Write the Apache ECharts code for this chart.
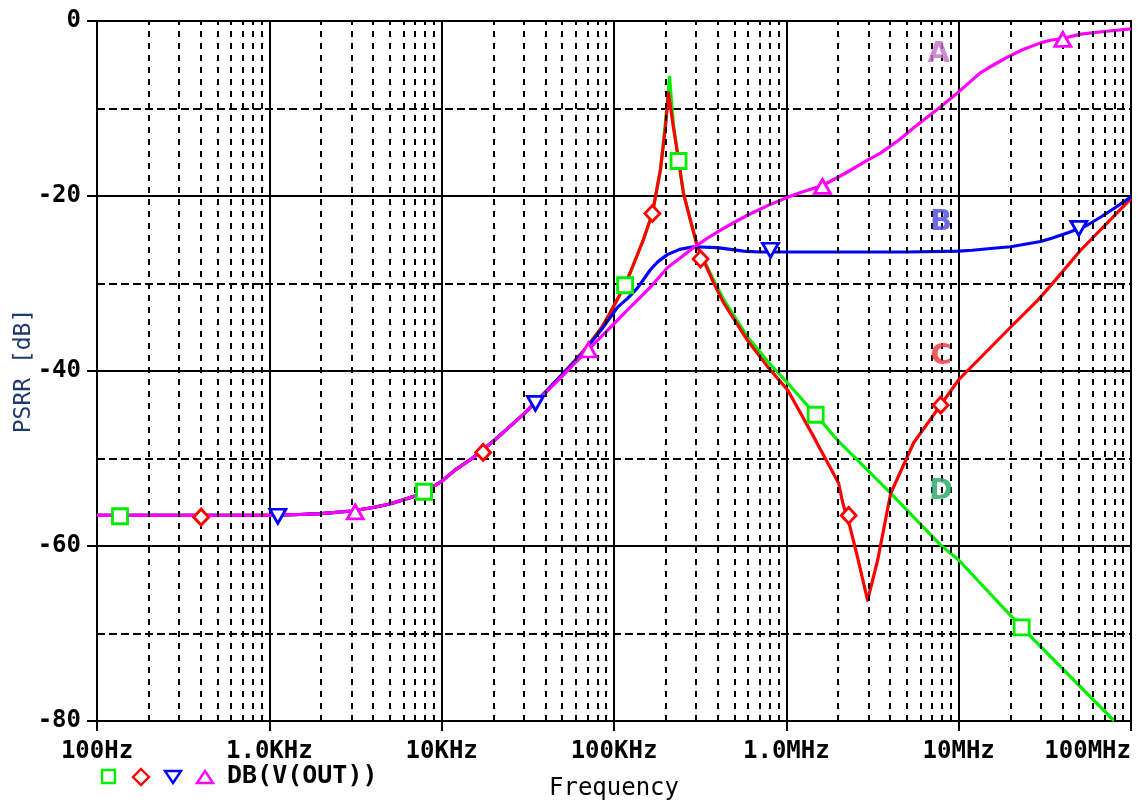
<!DOCTYPE html>
<html><head><meta charset="utf-8">
<script src="https://cdn.jsdelivr.net/npm/echarts@6/dist/echarts.min.js"></script>
<style>html,body{margin:0;padding:0;background:#fff}#c{width:1141px;height:803px}</style>
</head><body><div id="c"></div>
<script>
// ---- axis ticks ----
const xTickValues = [100, 1e3, 1e4, 1e5, 1e6, 1e7, 1e8];
const xTickLabels = ['100Hz', '1.0KHz', '10KHz', '100KHz', '1.0MHz', '10MHz', '100MHz'];
const yTickLabels = ['0', '-20', '-40', '-60', '-80'];

// ---- trace A (magenta) ----
const freqA = [100, 300, 1000, 1500, 2000, 3000, 4000, 5000, 7000, 8000, 10000, 12000, 15000, 20000, 25000, 30000, 40000, 50000, 60000, 70000,
  85000, 100000, 120000, 140000, 163000, 204000, 245000, 289000, 350000, 415000, 500000, 595000, 778000, 1000000, 1210000, 1620000,
  2200000, 2960000, 3520000, 4500000, 5480000, 7860000, 8800000, 10000000, 13400000, 16000000, 19300000, 24000000, 29900000, 34000000, 40000000, 51000000, 70000000, 100000000];
const dbA = [-56.5, -56.5, -56.5, -56.4, -56.3, -56.0, -55.6, -55.2, -54.3, -53.8, -52.6, -51.3, -50.0, -48.0, -46.3, -44.9, -42.5, -40.6, -39.0, -37.7,
  -36.0, -34.6, -33.0, -31.7, -30.4, -28.2, -27.0, -25.9, -24.8, -23.9, -23.0, -22.2, -21.1, -20.2, -19.6, -18.8,
  -17.4, -15.9, -15.1, -13.6, -12.2, -9.8, -9.0, -8.1, -5.9, -5.0, -4.1, -3.2, -2.5, -2.2, -2.0, -1.5, -1.2, -0.9];

// ---- trace B (blue) ----
const freqB = [100, 300, 1000, 1500, 2000, 3000, 4000, 5000, 7000, 8000, 10000, 12000, 15000, 20000, 25000, 30000, 40000, 50000, 60000, 70000,
  85000, 105000, 120000, 137000, 163000, 180000, 204000, 240000, 289000, 398000, 564000, 700000, 1000000, 2000000, 5000000, 10000000,
  12000000, 15300000, 20000000, 29900000, 35000000, 43000000, 55000000, 66800000, 80000000, 100000000];
const dbB = [-56.5, -56.5, -56.5, -56.4, -56.3, -56.0, -55.6, -55.2, -54.3, -53.8, -52.6, -51.3, -50.0, -48.0, -46.3, -44.9, -42.4, -40.4, -38.8, -37.3,
  -35.2, -32.7, -31.7, -30.5, -28.4, -27.5, -26.7, -26.1, -25.8, -25.9, -26.3, -26.4, -26.4, -26.4, -26.4, -26.3,
  -26.2, -26.0, -25.8, -25.2, -24.8, -24.2, -23.4, -22.4, -21.4, -20.1];

// ---- trace C (red) ----
const freqC = [100, 300, 1000, 1500, 2000, 3000, 4000, 5000, 7000, 8000, 10000, 12000, 15000, 20000, 25000, 30000, 40000, 50000, 60000, 70000,
  85000, 95300, 110000, 124000, 148000, 167000, 186000, 199000, 207000, 221000, 237000, 253000, 277000, 305000,
  378000, 432000, 595000, 778000, 1020000, 1440000, 1580000, 2010000, 2120000, 2340000, 2590000,
  2960000, 3390000, 4030000, 5480000, 7860000, 10000000, 20000000, 28800000, 34000000, 51000000, 100000000];
const dbC = [-56.5, -56.5, -56.5, -56.4, -56.3, -56.0, -55.6, -55.2, -54.3, -53.8, -52.6, -51.3, -50.0, -48.0, -46.3, -44.9, -42.4, -40.4, -38.7, -37.2,
  -35.0, -33.3, -31.0, -28.8, -25.0, -22.0, -17.0, -12.1, -8.2, -12.1, -15.9, -19.7, -22.7, -25.8,
  -29.9, -32.2, -36.5, -39.5, -42.2, -47.5, -49.0, -52.8, -55.0, -57.8, -61.3,
  -66.2, -61.6, -54.0, -48.2, -43.9, -41.0, -35.0, -31.9, -30.3, -26.2, -20.3];

// ---- trace D (green) ----
const freqD = [100, 300, 1000, 1500, 2000, 3000, 4000, 5000, 7000, 8000, 10000, 12000, 15000, 20000, 25000, 30000, 40000, 50000, 60000, 70000,
  85000, 95300, 110000, 124000, 148000, 167000, 186000, 199000, 210000, 221000, 237000, 253000, 277000, 305000,
  378000, 432000, 595000, 778000, 1020000, 1480000, 1980000, 4000000, 7860000, 10000000, 23200000, 80000000];
const dbD = [-56.5, -56.5, -56.5, -56.4, -56.3, -56.0, -55.6, -55.2, -54.3, -53.8, -52.6, -51.3, -50.0, -48.0, -46.3, -44.9, -42.4, -40.4, -38.7, -37.2,
  -35.0, -33.3, -31.0, -28.8, -25.0, -22.0, -17.0, -11.5, -6.4, -11.8, -15.9, -19.7, -22.7, -25.8,
  -29.6, -31.8, -36.1, -38.9, -41.4, -45.0, -47.9, -53.9, -59.9, -61.6, -69.3, -80.0];

// ---- markers ----
const markFreqD = [136, 7900, 116000, 237000, 1480000, 23200000];
const markDbD = [-56.6, -53.8, -30.2, -16.0, -45.0, -69.3];
const markFreqC = [402, 17400, 167000, 318000, 2300000, 7860000];
const markDbC = [-56.7, -49.3, -22.0, -27.2, -56.5, -43.9];
const markFreqB = [1120, 35000, 809000, 49800000];
const markDbB = [-56.6, -43.7, -26.2, -23.7];
const markFreqA = [3150, 71000, 1620000, 40200000];
const markDbA = [-56.1, -37.6, -18.9, -2.1];

// ---- trace name labels ----
const traceNames = ['A', 'B', 'C', 'D'];
const traceNameFreq = [7650000, 7900000, 7900000, 7900000];
const traceNameDb = [-3.8, -23.0, -38.3, -53.8];
const traceNameColors = ['#c070c4', '#4848d4', '#ea3434', '#26a460'];

const GREEN = '#00ee00', RED = '#ff0000', BLUE = '#0000ff', MAG = '#ff00ff';
const zip = (f, d) => f.map((v, i) => [v, d[i]]);

// minor (2..9) decade positions for the dashed vertical grid
const minorX = [];
for (let dec = 100; dec < 1e8; dec *= 10) for (let m = 2; m <= 9; m++) minorX.push(dec * m);

const chart = echarts.init(document.getElementById('c'), null, {renderer: 'canvas'});
const tickFont = {fontFamily: 'DejaVu Sans Mono', fontWeight: 'bold', fontSize: 24, color: '#000'};

function lineSeries(name, f, d, color) {
  return {type: 'line', name, data: zip(f, d), showSymbol: false, symbol: 'none', smooth: false,
    lineStyle: {color, width: 3.2, join: 'round'}, z: 3, animation: false, clip: true};
}
function markSeries(f, d, color, symbol, size, rotate) {
  return {type: 'scatter', data: zip(f, d), symbol, symbolSize: size, symbolRotate: rotate || 0,
    itemStyle: {color: '#fff', borderColor: color, borderWidth: 2.8, opacity: 1}, z: 6, animation: false, silent: true};
}

chart.setOption({
  animation: false,
  backgroundColor: '#fff',
  grid: {left: 97, right: 10, top: 21, bottom: 82, containLabel: false, outerBoundsMode: 'none',
    show: true, borderColor: '#000', borderWidth: 2, backgroundColor: 'transparent'},
  xAxis: {
    type: 'log', logBase: 10, min: 100, max: 1e8, interval: 1,
    name: 'Frequency', nameLocation: 'middle', nameGap: 56, nameMoveOverlap: false,
    nameTextStyle: {fontFamily: 'DejaVu Sans Mono', fontSize: 24, color: '#000'},
    axisLine: {show: true, onZero: false, lineStyle: {color: '#000', width: 2}},
    axisTick: {show: true, inside: false, length: 10, lineStyle: {color: '#000', width: 2}},
    axisLabel: Object.assign({margin: 19, alignMaxLabel: 'right', showMaxLabel: true, showMinLabel: true,
      formatter: v => { const i = xTickValues.findIndex(t => Math.abs(Math.log10(t) - Math.log10(v)) < 1e-6); return i >= 0 ? xTickLabels[i] : ''; }}, tickFont),
    splitLine: {show: true, lineStyle: {color: '#000', width: 2}},
    minorTick: {show: false}, minorSplitLine: {show: false}
  },
  yAxis: {
    type: 'value', min: -80, max: 0, interval: 20,
    name: 'PSRR [dB]', nameLocation: 'middle', nameGap: 61, nameRotate: 90, nameMoveOverlap: false,
    nameTextStyle: {fontFamily: 'DejaVu Sans Mono', fontSize: 23, color: '#1f3a70'},
    axisLine: {show: true, onZero: false, lineStyle: {color: '#000', width: 2}},
    axisTick: {show: true, inside: false, length: 10, lineStyle: {color: '#000', width: 2}},
    axisLabel: Object.assign({margin: 16, formatter: v => yTickLabels[Math.round(-v / 20)]}, tickFont),
    splitLine: {show: true, lineStyle: {color: '#000', width: 2}},
    minorTick: {show: false, splitNumber: 2},
    minorSplitLine: {show: true, lineStyle: {color: '#000', width: 2, type: [8, 4]}}
  },
  series: [
    {type: 'line', data: [], z: 1, silent: true, animation: false,
      markLine: {silent: true, symbol: ['none', 'none'], label: {show: false}, animation: false,
        lineStyle: {color: '#000', width: 2, type: [6, 6]},
        emphasis: {disabled: true},
        data: minorX.map(v => ({xAxis: v}))}},
    lineSeries('D', freqD, dbD, GREEN),
    lineSeries('C', freqC, dbC, RED),
    lineSeries('B', freqB, dbB, BLUE),
    lineSeries('A', freqA, dbA, MAG),
    markSeries(markFreqD, markDbD, GREEN, 'rect', 15),
    markSeries(markFreqC, markDbC, RED, 'diamond', [15, 16]),
    markSeries(markFreqB, markDbB, BLUE, 'triangle', [16, 14], 180),
    markSeries(markFreqA, markDbA, MAG, 'triangle', [16, 14]),
    {type: 'scatter', z: 7, silent: true, animation: false, symbolSize: 1,
      itemStyle: {color: 'rgba(0,0,0,0)'},
      label: {show: true, fontSize: 29, fontWeight: 'bold', fontFamily: 'DejaVu Sans'},
      data: traceNames.map((n, i) => ({value: [traceNameFreq[i], traceNameDb[i]], name: n,
        label: {show: true, position: 'inside', formatter: n, color: traceNameColors[i],
          fontFamily: 'DejaVu Sans', fontWeight: 'bold', fontSize: 29}}))}
  ],
  graphic: [
    {type: 'rect', shape: {x: 102, y: 770, width: 13, height: 13}, style: {fill: '#fff', stroke: GREEN, lineWidth: 2.4}},
    {type: 'polygon', shape: {points: [[141, 769], [149, 777], [141, 785], [133, 777]]}, style: {fill: '#fff', stroke: RED, lineWidth: 2.4}},
    {type: 'polygon', shape: {points: [[165, 771], [181, 771], [173, 783]]}, style: {fill: '#fff', stroke: BLUE, lineWidth: 2.4}},
    {type: 'polygon', shape: {points: [[197, 783], [213, 783], [205, 771]]}, style: {fill: '#fff', stroke: MAG, lineWidth: 2.4}},
    {type: 'text', left: 227, top: 764, style: {text: 'DB(V(OUT))', fontFamily: 'DejaVu Sans Mono', fontWeight: 'bold', fontSize: 25, fill: '#000'}}
  ]
});
</script></body></html>
